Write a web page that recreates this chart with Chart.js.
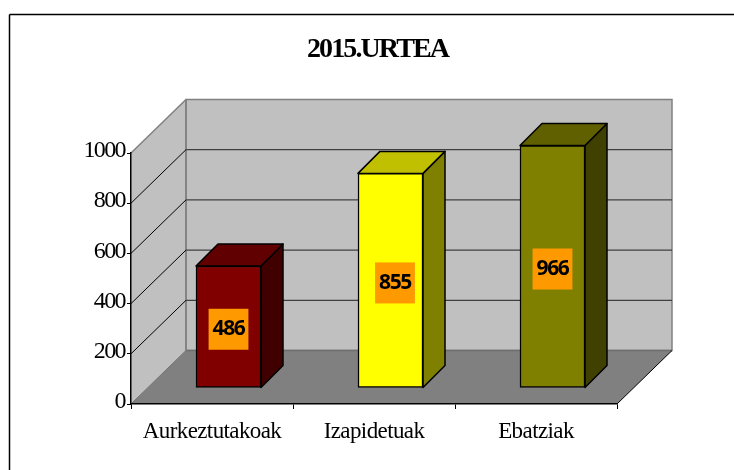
<!DOCTYPE html>
<html>
<head>
<meta charset="utf-8">
<style>
  html, body { margin: 0; padding: 0; background: #fff; }
  #wrap { width: 734px; height: 470px; }
</style>
<script src="https://cdn.jsdelivr.net/npm/chart.js@4"></script>
</head>
<body>
<div id="wrap"><canvas id="chart" width="734" height="470"></canvas></div>
<script>
const chartTitle = '2015.URTEA'
const categories = ['Aurkeztutakoak', 'Izapidetuak', 'Ebatziak']
const values = [486, 855, 966]
const yTicks = [0, 200, 400, 600, 800, 1000]
const frontColors = ['#800000', '#ffff00', '#808000']
const topColors = ['#600000', '#c0c000', '#606000']
const sideColors = ['#400000', '#808000', '#404000']

// 3d look: how far the back wall and the bars sit from the front plane
const wallDepth = { x: 55, y: 53.5 }
const barShift = { x: 16.5, y: -16 }
const barDepth = 22
const labelShiftX = [0, 4.5, 0]

function poly (ctx, pts, fill, stroke, width) {
    ctx.beginPath()
    pts.forEach((p, i) => i ? ctx.lineTo(p[0], p[1]) : ctx.moveTo(p[0], p[1]))
    ctx.closePath()
    if (fill) {
        ctx.fillStyle = fill
        ctx.fill()
    }
    if (stroke) {
        ctx.strokeStyle = stroke
        ctx.lineWidth = width
        ctx.stroke()
    }
}

function line (ctx, x1, y1, x2, y2, color, width) {
    ctx.beginPath()
    ctx.moveTo(x1, y1)
    ctx.lineTo(x2, y2)
    ctx.strokeStyle = color
    ctx.lineWidth = width
    ctx.stroke()
}

// the reference text is squeezed, chart.js has no option for that
function squeeze (box, method, spacing) {
    const draw = box[method]
    box[method] = function (area) {
        const ctx = this.ctx
        ctx.save()
        ctx.letterSpacing = spacing
        draw.call(this, area)
        ctx.restore()
    }
}

const walls = {
    id: 'walls',
    afterLayout (chart) {
        // title sits a little right of the canvas centre
        chart.titleBlock.left = 21
        chart.titleBlock.right = 734
        if (!chart.$squeezed) {
            chart.$squeezed = true
            squeeze(chart.titleBlock, 'draw', '-1.9px')
            squeeze(chart.scales.x, 'drawLabels', '-0.6px')
            squeeze(chart.scales.y, 'drawLabels', '-1.6px')
        }
    },
    beforeDraw (chart) {
        const { ctx, chartArea: a, scales: { y } } = chart
        const dx = wallDepth.x, dy = wallDepth.y
        ctx.save()
        // outer frame, cut off on the right and bottom
        line(ctx, 9.5, 14.5, 734, 14.5, '#000', 1.5)
        line(ctx, 9.5, 14.5, 9.5, 470, '#000', 1.5)

        const top = y.getPixelForValue(1000), bottom = y.getPixelForValue(0)
        poly(ctx, [[a.left, top], [a.left + dx, top - dy], [a.left + dx, bottom - dy], [a.left, bottom]], '#c0c0c0')
        poly(ctx, [[a.left + dx, top - dy], [a.right + dx, top - dy], [a.right + dx, bottom - dy], [a.left + dx, bottom - dy]], '#c0c0c0', '#808080', 1.5)
        poly(ctx, [[a.left, bottom], [a.left + dx, bottom - dy], [a.right + dx, bottom - dy], [a.right, bottom]], '#808080')
        line(ctx, a.left + dx, bottom - dy, a.right + dx, bottom - dy, '#6e6e6e', 1.5)
        line(ctx, a.left + dx, top - dy, a.left + dx, bottom - dy, '#808080', 1.5)
        line(ctx, a.left, top, a.left + dx, top - dy, '#808080', 1.5)
        line(ctx, a.left, bottom, a.left + dx, bottom - dy, '#707070', 1)
        line(ctx, a.right, bottom, a.right + dx, bottom - dy, '#000', 1)

        yTicks.forEach(v => {
            if (v === 0 || v === 1000) return
            const py = y.getPixelForValue(v)
            line(ctx, a.left, py, a.left + dx, py - dy, '#000', 1)
            line(ctx, a.left + dx, py - dy, a.right + dx, py - dy, '#404040', 1.2)
        })
        ctx.restore()
    },
    beforeDatasetDraw (chart, args) {
        const { ctx } = chart
        ctx.save()
        ctx.translate(barShift.x, barShift.y)
        ctx.lineJoin = 'round'
        args.meta.data.forEach((bar, i) => {
            const half = bar.width / 2
            const l = bar.x - half, r = bar.x + half, d = barDepth
            poly(ctx, [[r, bar.y], [r + d, bar.y - d], [r + d, bar.base - d], [r, bar.base]], sideColors[i], '#000', 1.5)
            poly(ctx, [[l, bar.y], [l + d, bar.y - d], [r + d, bar.y - d], [r, bar.y]], topColors[i], '#000', 1.5)
        })
    },
    afterDatasetDraw (chart, args) {
        const { ctx } = chart
        ctx.font = 'bold 21px "Open Sans"'
        ctx.letterSpacing = '-1.4px'
        ctx.textAlign = 'center'
        ctx.textBaseline = 'middle'
        args.meta.data.forEach((bar, i) => {
            const cx = bar.x + labelShiftX[i]
            const cy = (bar.y + bar.base) / 2 + 2.5
            const text = String(values[i])
            const w = ctx.measureText(text).width + 8
            ctx.fillStyle = '#ff9900'
            ctx.fillRect(cx - w / 2, cy - 20.5, w, 41)
            ctx.fillStyle = '#000'
            ctx.fillText(text, cx, cy)
        })
        ctx.restore()
    },
}

new Chart(document.getElementById('chart'), {
    type: 'bar',
    data: {
        labels: categories,
        datasets: [{
            data: values,
            backgroundColor: frontColors,
            borderColor: '#000',
            borderWidth: 1.5,
            borderSkipped: false,
            barThickness: 65,
            clip: false,
        }],
    },
    options: {
        responsive: false,
        animation: false,
        layout: { padding: { right: 117, top: 0, bottom: 0, left: 0 } },
        plugins: {
            legend: { display: false },
            tooltip: { enabled: false },
            title: {
                display: true,
                text: chartTitle,
                color: '#000',
                font: { family: '"Liberation Serif"', size: 28, weight: 'bold', lineHeight: 1.2 },
                padding: { top: 33, bottom: 86.4 },
            },
        },
        scales: {
            x: {
                afterFit (s) { s.height = 66 },
                border: { color: '#000', width: 1.5 },
                grid: { drawOnChartArea: false, color: '#000', tickLength: 5, offset: true },
                ticks: {
                    color: '#000',
                    padding: 9,
                    maxRotation: 0,
                    font: { family: '"Liberation Serif"', size: 23 },
                },
            },
            y: {
                min: 0,
                max: 1000,
                afterFit (s) { s.width = 131 },
                afterBuildTicks (s) { s.ticks = yTicks.map(v => ({ value: v })) },
                border: { color: '#000', width: 1.5 },
                grid: { drawOnChartArea: false, color: '#000', tickLength: 4 },
                ticks: {
                    color: '#000',
                    padding: 2,
                    labelOffset: -2,
                    callback: v => String(v),
                    font: { family: '"Liberation Serif"', size: 24 },
                },
            },
        },
    },
    plugins: [walls],
})
</script>
</body>
</html>
